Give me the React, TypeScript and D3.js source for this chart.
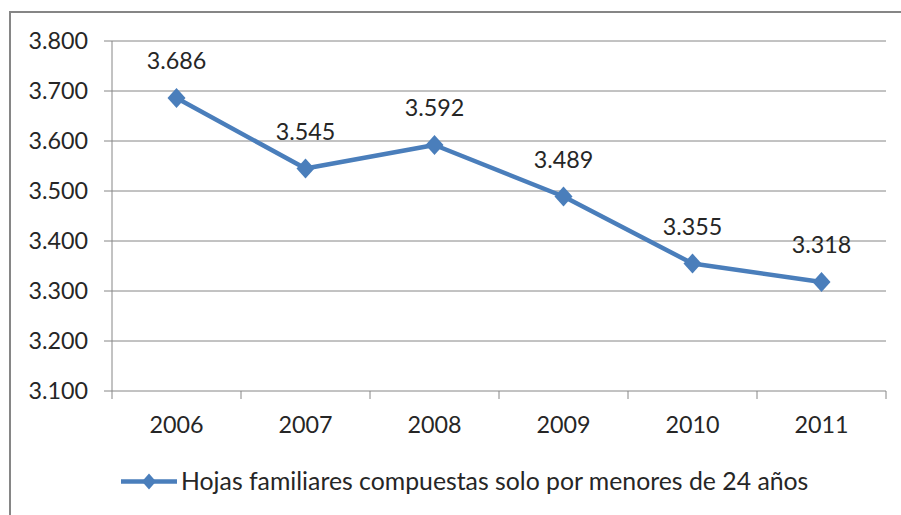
import React from "react";
import * as d3 from "d3";

const years = ["2006", "2007", "2008", "2009", "2010", "2011"];
const values = [3686, 3545, 3592, 3489, 3355, 3318];
const yTicks = [3100, 3200, 3300, 3400, 3500, 3600, 3700, 3800];
const seriesName = "Hojas familiares compuestas solo por menores de 24 años";

const W = 901;
const H = 515;
const FONT = "Lato, 'Open Sans', sans-serif";
const COLOR = "#4A7EBB";
const GRID = "#868686";
const TXT = "#262626";

const fmt = (v: number) => {
  const s = String(v);
  return s.slice(0, s.length - 3) + "." + s.slice(s.length - 3);
};

export default function App() {
  const left = 112, right = 886, top = 41, bottom = 391;
  const x = d3.scaleBand<string>().domain(years).range([left, right]);
  const y = d3.scaleLinear().domain([3100, 3800]).range([bottom, top]);
  const cx = (d: string) => (x(d) as number) + x.bandwidth() / 2;
  const line = d3
    .line<number>()
    .x((_, i) => cx(years[i]))
    .y((v) => y(v));
  const diamond = (px: number, py: number, rx: number, ry: number) =>
    `M${px},${py - ry}L${px + rx},${py}L${px},${py + ry}L${px - rx},${py}Z`;
  const bounds = years.map((d) => x(d) as number).concat([right]);

  return (
    <svg
      width={W}
      height={H}
      style={{ position: "absolute", left: 0, top: 0, background: "#fff" }}
      fontFamily={FONT}
    >
      <rect x={0} y={0} width={W} height={H} fill="#fff" />
      {/* outer chart border (only top and left visible) */}
      <rect x={10} y={12} width={W + 20} height={H + 20} fill="none" stroke={GRID} strokeWidth={2} />
      {/* gridlines */}
      {yTicks.map((t) => (
        <line key={t} x1={left - 8} x2={right} y1={y(t)} y2={y(t)} stroke={GRID} strokeWidth={1} />
      ))}
      {/* y axis */}
      <line x1={left} x2={left} y1={top} y2={bottom} stroke={GRID} strokeWidth={1} />
      {yTicks.map((t) => (
        <text key={t} x={88} y={y(t)} dy="0.36em" textAnchor="end" fontSize={23.3} fill={TXT}>
          {fmt(t)}
        </text>
      ))}
      {/* x axis ticks */}
      {bounds.map((b, i) => (
        <line key={i} x1={b} x2={b} y1={bottom} y2={bottom + 8} stroke={GRID} strokeWidth={1} />
      ))}
      {years.map((d) => (
        <text key={d} x={cx(d)} y={433} textAnchor="middle" fontSize={23.3} fill={TXT}>
          {d}
        </text>
      ))}
      {/* series */}
      <path d={line(values) || ""} fill="none" stroke={COLOR} strokeWidth={4.5} strokeLinejoin="round" />
      {values.map((v, i) => (
        <path key={i} d={diamond(cx(years[i]), y(v), 9, 10)} fill={COLOR} />
      ))}
      {values.map((v, i) => (
        <text key={i} x={cx(years[i])} y={y(v) - 29} textAnchor="middle" fontSize={23.3} fill={TXT}>
          {fmt(v)}
        </text>
      ))}
      {/* legend */}
      <line x1={121} x2={177} y1={481.5} y2={481.5} stroke={COLOR} strokeWidth={4.5} />
      <path d={diamond(149, 481.5, 7, 8)} fill={COLOR} />
      <text x={181} y={490} fontSize={24.8} fill={TXT}>
        {seriesName}
      </text>
    </svg>
  );
}
